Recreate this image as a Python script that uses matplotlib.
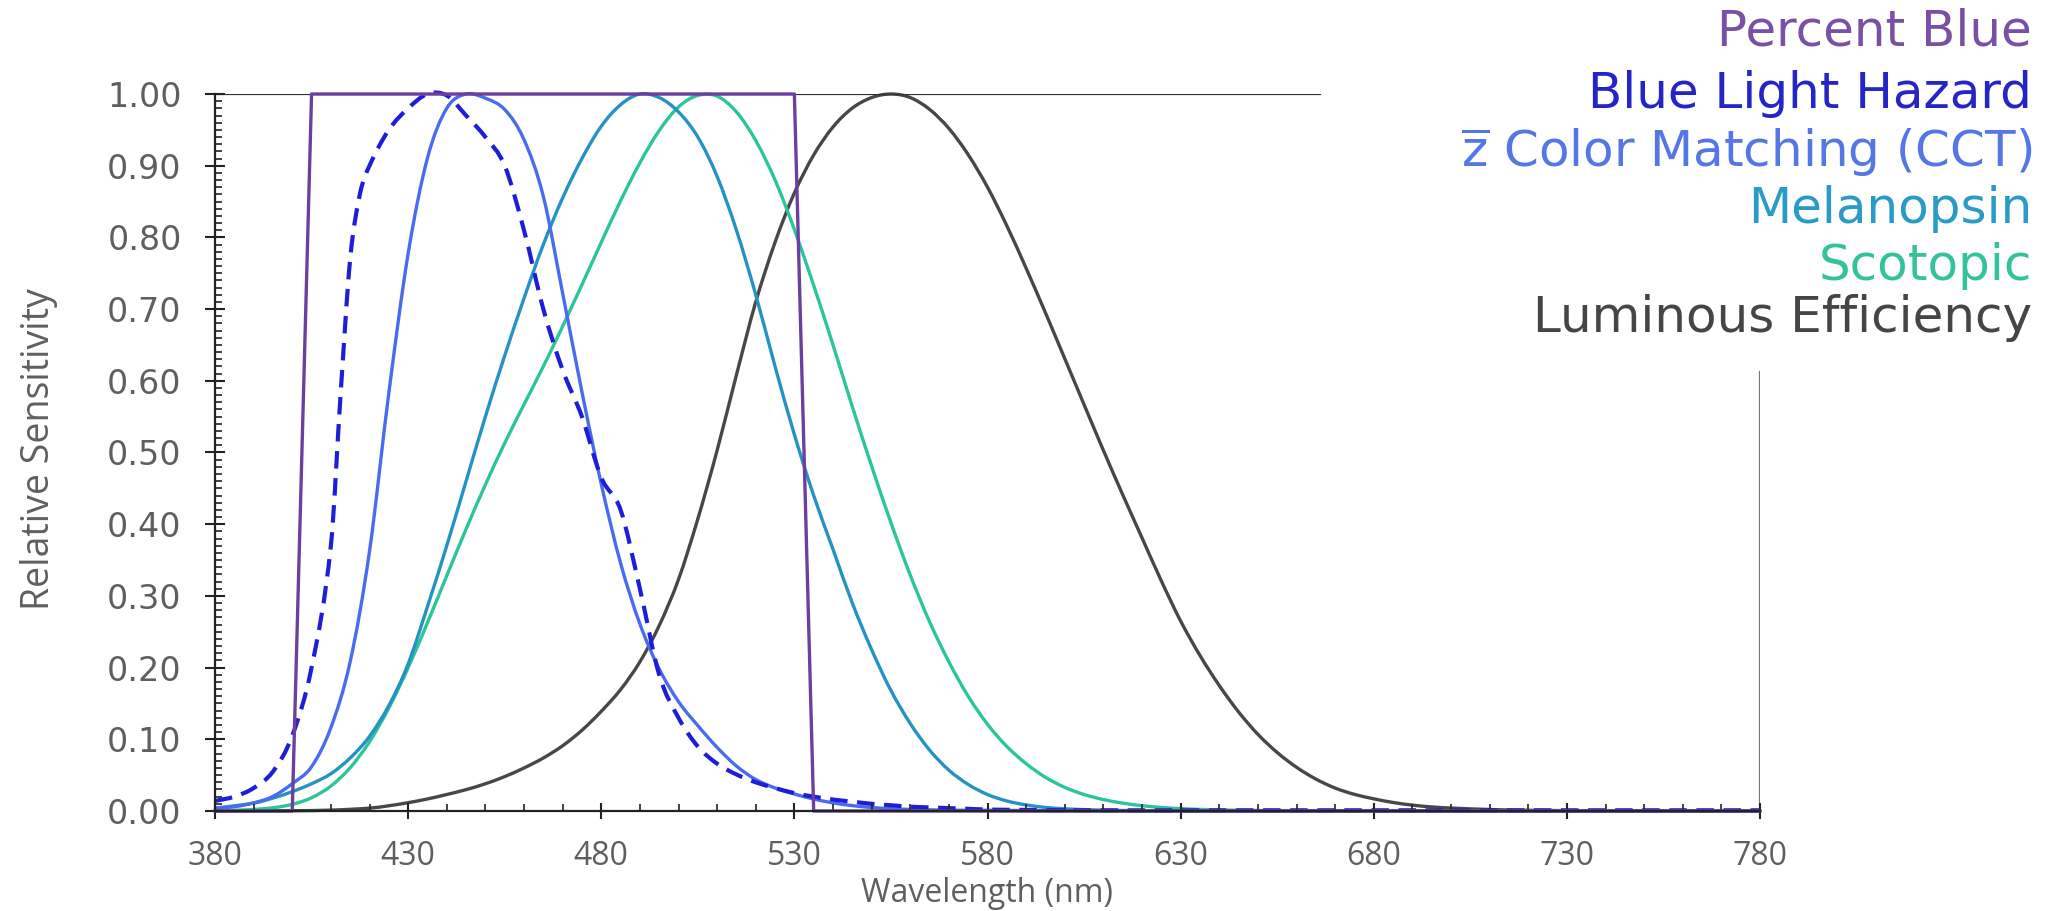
import matplotlib.pyplot as plt
from matplotlib.ticker import MultipleLocator, FormatStrFormatter
from matplotlib.path import Path
from matplotlib.patches import PathPatch

# =========================================================
# DATA
# =========================================================

# Percent Blue: rectangular window
pct_blue_nm = [380, 400, 405, 530, 535, 780]
pct_blue = [0, 0, 1, 1, 0, 0]

# Blue Light Hazard (dashed)
blh_nm = [380, 385, 390, 395, 400, 405, 410, 412.5, 415, 417.5, 420, 425, 430,
          435, 440, 445, 450, 455, 460, 465, 470, 475, 480, 485, 490, 495, 500,
          505, 510, 515, 520, 525, 530, 535, 540, 545, 550, 555, 560, 565, 570,
          575, 580, 590, 600, 650, 700, 780]
blh = [0.014, 0.020, 0.032, 0.055, 0.105, 0.20, 0.37, 0.58, 0.77, 0.86, 0.90,
       0.95, 0.98, 1.0, 0.998, 0.97, 0.94, 0.90, 0.81, 0.70, 0.615, 0.55, 0.465,
       0.42, 0.31, 0.19, 0.13, 0.09, 0.066, 0.051, 0.040, 0.032, 0.025, 0.020,
       0.016, 0.013, 0.010, 0.008, 0.006, 0.005, 0.004, 0.003, 0.002, 0.0015,
       0.001, 0.001, 0.001, 0.001]

# z-bar colour matching (CCT)
zbar_nm = [380, 385, 390, 395, 400, 405, 410, 415, 420, 425, 430, 435, 440, 445,
           450, 455, 460, 465, 470, 475, 480, 485, 490, 495, 500, 505, 510, 515,
           520, 525, 530, 535, 540, 545, 550, 555, 560, 565, 570, 575, 580, 590,
           600, 620, 650, 780]
zbar = [0.0036, 0.0059, 0.0113, 0.0203, 0.0381, 0.0618, 0.1163, 0.2083, 0.3622,
        0.5829, 0.7773, 0.9105, 0.9801, 1.0, 0.9941, 0.9784, 0.9364, 0.8572,
        0.7223, 0.5845, 0.4561, 0.3457, 0.2610, 0.1982, 0.1526, 0.1191, 0.0887,
        0.0627, 0.0439, 0.0321, 0.0237, 0.0167, 0.0114, 0.0075, 0.0049, 0.0032,
        0.0022, 0.0016, 0.0012, 0.0010, 0.0010, 0.0006, 0.0004, 0.0001, 0.0, 0.0]

# Melanopsin
mel_nm = [380, 390, 395, 400, 405, 410, 415, 420, 425, 430, 435, 440, 445, 450,
          455, 460, 465, 470, 475, 480, 485, 490, 495, 500, 505, 510, 515, 520,
          525, 530, 535, 540, 545, 550, 555, 560, 565, 570, 575, 580, 585, 590,
          595, 600, 610, 620, 650, 780]
mel = [0.004, 0.011, 0.018, 0.027, 0.038, 0.052, 0.074, 0.104, 0.147, 0.205,
       0.285, 0.37, 0.46, 0.55, 0.635, 0.715, 0.79, 0.855, 0.91, 0.955, 0.985,
       1.0, 0.995, 0.975, 0.94, 0.885, 0.81, 0.72, 0.62, 0.525, 0.44, 0.365,
       0.29, 0.225, 0.168, 0.122, 0.085, 0.057, 0.037, 0.023, 0.014, 0.0085,
       0.005, 0.003, 0.0012, 0.0005, 0.0, 0.0]

# Scotopic
scot_nm = [380, 385, 390, 395, 400, 405, 410, 415, 420, 425, 430, 435, 440, 445,
           450, 455, 460, 465, 470, 475, 480, 485, 490, 495, 500, 505, 510, 515,
           520, 525, 530, 535, 540, 545, 550, 555, 560, 565, 570, 575, 580, 585,
           590, 595, 600, 605, 610, 615, 620, 625, 630, 640, 650, 670, 700, 780]
scot = [0.0006, 0.0011, 0.0022, 0.0045, 0.0093, 0.0185, 0.0348, 0.0604, 0.0966,
        0.1436, 0.1998, 0.2625, 0.3281, 0.3931, 0.455, 0.513, 0.567, 0.620,
        0.676, 0.734, 0.793, 0.851, 0.904, 0.949, 0.982, 0.998, 0.997, 0.975,
        0.935, 0.880, 0.811, 0.733, 0.650, 0.564, 0.481, 0.402, 0.329, 0.264,
        0.208, 0.160, 0.121, 0.090, 0.066, 0.047, 0.033, 0.023, 0.016, 0.011,
        0.0074, 0.0050, 0.0033, 0.0015, 0.0007, 0.0001, 0.0, 0.0]

# Luminous Efficiency (photopic)
lum_nm = [380, 390, 400, 410, 420, 425, 430, 435, 440, 445, 450, 455, 460, 465,
          470, 475, 480, 485, 490, 495, 500, 505, 510, 515, 520, 525, 530, 535,
          540, 545, 550, 555, 560, 565, 570, 575, 580, 585, 590, 595, 600, 605,
          610, 615, 620, 625, 630, 635, 640, 645, 650, 655, 660, 665, 670, 675,
          680, 685, 690, 695, 700, 710, 720, 740, 780]
lum = [0.0000, 0.0001, 0.0004, 0.0012, 0.0040, 0.0073, 0.0116, 0.0168, 0.023,
       0.0298, 0.038, 0.048, 0.060, 0.0739, 0.091, 0.1126, 0.139, 0.1693, 0.208,
       0.2586, 0.323, 0.4073, 0.503, 0.6082, 0.710, 0.7932, 0.862, 0.9149,
       0.954, 0.9803, 0.995, 1.0, 0.995, 0.9786, 0.952, 0.9154, 0.870, 0.8163,
       0.757, 0.6949, 0.631, 0.5668, 0.503, 0.4412, 0.381, 0.321, 0.265, 0.217,
       0.175, 0.1382, 0.107, 0.0816, 0.061, 0.0446, 0.032, 0.0232, 0.017,
       0.0119, 0.0082, 0.0057, 0.0041, 0.0021, 0.0010, 0.0002, 0.0]

x_ticks = [380, 430, 480, 530, 580, 630, 680, 730, 780]

legend_labels = ["Percent Blue", "Blue Light Hazard",
                 r"$\overline{\mathrm{z}}$ Color Matching (CCT)",
                 "Melanopsin", "Scotopic", "Luminous Efficiency"]

# =========================================================
# STYLE
# =========================================================

col_pct = "#6B3FA0"
col_blh = "#1E1ED8"
col_zbar = "#4A6BEF"
col_mel = "#2592C4"
col_scot = "#2CC49A"
col_lum = "#474747"
legend_colors = ["#7A4FA6", "#2424C8", "#5577E6", "#2A9BC9", "#33C29A", "#454545"]

plt.rcParams["mathtext.fontset"] = "dejavusans"


def smooth_path(xs, ys):
    # smoothed line (like a spreadsheet "smooth line"): cubic Bezier
    # segments through the data points, slopes from neighbouring points
    n = len(xs)
    slopes = []
    for i in range(n):
        a = max(i - 1, 0)
        b = min(i + 1, n - 1)
        slopes.append((ys[b] - ys[a]) / (xs[b] - xs[a]))
    verts = [(xs[0], ys[0])]
    codes = [Path.MOVETO]
    for i in range(n - 1):
        h = xs[i + 1] - xs[i]
        verts += [(xs[i] + h / 3, ys[i] + slopes[i] * h / 3),
                  (xs[i + 1] - h / 3, ys[i + 1] - slopes[i + 1] * h / 3),
                  (xs[i + 1], ys[i + 1])]
        codes += [Path.CURVE4] * 3
    return Path(verts, codes)


# =========================================================
# FIGURE
# =========================================================

fig = plt.figure(figsize=(20.45, 9.11), dpi=100)
ax = fig.add_axes([215 / 2045, 1 - 811 / 911, (1760 - 215) / 2045, (811 - 94) / 911])

series = [
    (lum_nm, lum, col_lum, 2.4, "-"),
    (scot_nm, scot, col_scot, 2.4, "-"),
    (mel_nm, mel, col_mel, 2.4, "-"),
    (zbar_nm, zbar, col_zbar, 2.4, "-"),
    (blh_nm, blh, col_blh, 3.0, (0, (4.2, 2.3))),
]
for xs, ys, c, lw, ls in series:
    ax.add_patch(PathPatch(smooth_path(xs, ys), fill=False, edgecolor=c, lw=lw,
                           linestyle=ls, clip_on=False, capstyle="butt"))

ax.plot(pct_blue_nm, pct_blue, color=col_pct, lw=2.4, clip_on=False)

ax.set_xlim(380, 780)
ax.set_ylim(0, 1)

# frame: left/bottom full, top and right only partially (cut by legend)
for s in ["top", "right"]:
    ax.spines[s].set_visible(False)
for s in ["left", "bottom"]:
    ax.spines[s].set_color("#222222")
    ax.spines[s].set_linewidth(1.6)
ax.axhline(1.0, xmin=0, xmax=0.715, color="#333333", lw=1.6, zorder=1)
ax.axvline(780, ymin=0, ymax=0.612, color="#777777", lw=1.6, zorder=1)

ax.set_xticks(x_ticks)
ax.xaxis.set_minor_locator(MultipleLocator(10))
ax.yaxis.set_major_locator(MultipleLocator(0.1))
ax.yaxis.set_minor_locator(MultipleLocator(0.01))
ax.yaxis.set_major_formatter(FormatStrFormatter("%.2f"))

ax.tick_params(which="major", direction="inout", color="#222222", width=1.5)
ax.tick_params(which="minor", direction="in", length=5, color="#222222", width=1.2)
ax.tick_params(axis="y", which="major", length=14, pad=17, labelsize=24,
               labelcolor="#5f5f5f")
ax.tick_params(axis="x", which="major", length=12, pad=15, labelsize=23,
               labelcolor="#5f5f5f")
for lab in ax.get_yticklabels():
    lab.set_fontfamily("DejaVu Sans")
for lab in ax.get_xticklabels():
    lab.set_fontfamily("Open Sans")

fig.text(987 / 2045, 1 - 902 / 911, "Wavelength (nm)", ha="center", va="baseline",
         fontsize=23, color="#5f5f5f", family="Open Sans")
fig.text(39 / 2045, 1 - 449 / 911, "Relative Sensitivity", ha="center", va="center",
         rotation=90, fontsize=27, color="#5f5f5f", family="Open Sans")

# legend as coloured text, right aligned
baselines = [45, 108, 167, 223, 280, 332]
for lab, c, b in zip(legend_labels, legend_colors, baselines):
    fig.text(2032 / 2045, 1 - b / 911, lab, ha="right", va="baseline",
             fontsize=36, color=c, family="DejaVu Sans")

fig.savefig("out.png", dpi=100, facecolor="white")
